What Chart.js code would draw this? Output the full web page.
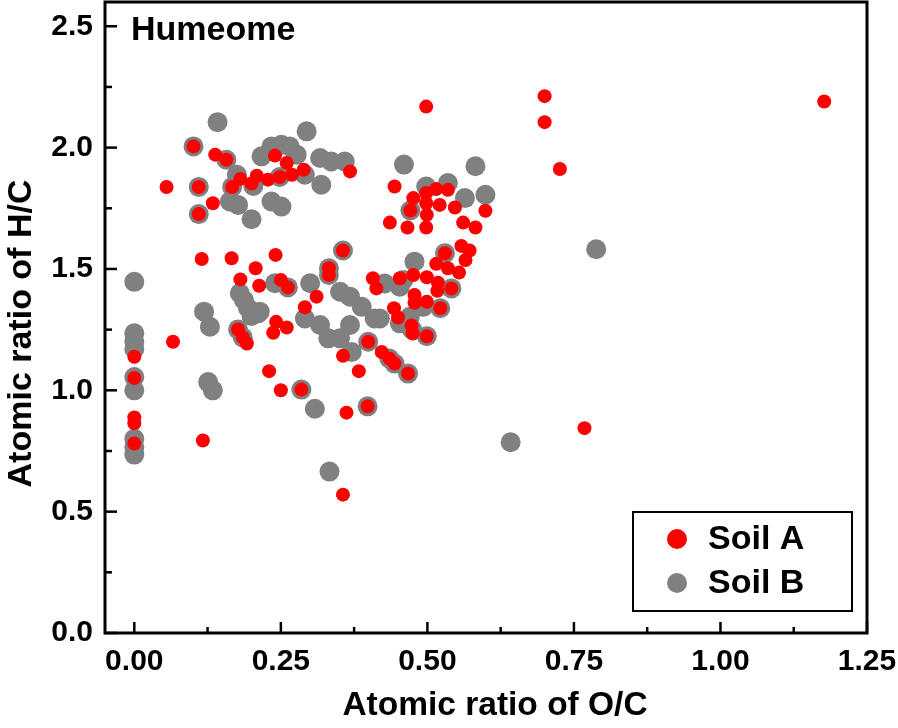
<!DOCTYPE html>
<html><head><meta charset="utf-8">
<script src="https://cdn.jsdelivr.net/npm/chart.js@4.4.1/dist/chart.umd.min.js"></script>
<style>html,body{margin:0;padding:0;background:#fff}#wrap{width:898px;height:728px}</style>
</head><body><div id="wrap"><canvas id="c" width="898" height="728"></canvas></div>
<script>
// ---- data ----
const chartLabel = "Humeome";
const xTitle = "Atomic ratio of O/C";
const yTitle = "Atomic ratio of H/C";
const seriesNames = ["Soil A", "Soil B"];
const xTicks = [0.00, 0.25, 0.50, 0.75, 1.00, 1.25];
const yTicks = [0.0, 0.5, 1.0, 1.5, 2.0, 2.5];

const soilA_OC = [0,0,0,0,0,0.101,0.138,0.157,0.055,0.110,0.167,0.181,0.200,0.209,0.228,0.248,0.269,0.289,0.368,0.240,0.260,0.134,0.110,0.115,0.166,0.241,0.207,0.181,0.213,0.250,0.262,0.332,0.332,0.356,0.311,0.291,0.242,0.260,0.237,0.066,0.117,0.177,0.185,0.192,0.230,0.250,0.285,0.362,0.398,0.383,0.356,0.356,0.768,0.399,0.422,0.435,0.444,0.467,0.443,0.450,0.473,0.475,0.499,0.478,0.499,0.522,0.478,0.517,0.541,0.518,0.476,0.499,0.453,0.407,0.413,0.515,0.535,0.554,0.565,0.530,0.558,0.572,0.498,0.700,0.700,0.726,1.177,0.444,0.476,0.471,0.498,0.515,0.535,0.498,0.521,0.499,0.547,0.436,0.466,0.498,0.561,0.582,0.599];
const soilA_HC = [1.138,1.051,0.888,0.864,0.781,2.005,1.971,1.950,1.838,1.838,1.838,1.871,1.852,1.884,1.868,1.879,1.888,1.909,1.902,1.967,1.937,1.771,1.726,1.541,1.544,1.558,1.503,1.457,1.431,1.455,1.424,1.503,1.475,1.576,1.386,1.342,1.282,1.259,1.237,1.200,0.793,1.251,1.218,1.193,1.079,1.000,1.003,0.908,0.934,1.079,1.142,0.570,0.844,1.200,1.158,1.131,1.110,1.069,1.338,1.300,1.267,1.234,1.223,1.361,1.365,1.338,1.393,1.410,1.420,1.443,1.475,1.466,1.462,1.462,1.420,1.521,1.503,1.485,1.537,1.565,1.595,1.576,2.169,2.212,2.105,1.912,2.190,1.840,1.792,1.741,1.813,1.829,1.826,1.771,1.764,1.723,1.753,1.691,1.671,1.671,1.691,1.671,1.740];

const soilB_OC = [0,0,0,0,0,0,0,0,0,0.142,0.101,0.157,0.110,0.167,0.110,0.175,0.163,0.177,0.200,0.217,0.234,0.251,0.265,0.277,0.294,0.317,0.336,0.359,0.319,0.291,0.248,0.203,0.234,0.251,0.180,0.187,0.194,0.200,0.211,0.177,0.185,0.240,0.300,0.351,0.368,0.388,0.410,0.368,0.291,0.317,0.331,0.351,0.371,0.214,0.308,0.427,0.453,0.478,0.459,0.493,0.419,0.453,0.119,0.129,0.126,0.134,0.333,0.642,0.788,0.460,0.582,0.498,0.535,0.564,0.599,0.471,0.530,0.356,0.332,0.332,0.262,0.285,0.398,0.399,0.435,0.444,0.467,0.499,0.522,0.541,0.474,0.470];
const soilB_HC = [1.447,1.235,1.200,1.170,1.055,1.000,0.800,0.765,0.735,2.105,2.005,1.950,1.838,1.838,1.726,1.888,1.778,1.764,1.705,1.964,2.005,2.012,2.005,1.971,2.067,1.957,1.943,1.943,1.847,1.888,1.879,1.842,1.778,1.757,1.400,1.372,1.339,1.306,1.317,1.251,1.218,1.441,1.441,1.406,1.386,1.344,1.296,1.269,1.296,1.269,1.214,1.214,1.158,1.324,0.924,1.440,1.427,1.530,1.455,1.344,1.296,1.276,1.324,1.262,1.034,1.000,0.665,0.786,1.581,1.930,1.923,1.840,1.854,1.792,1.806,1.741,1.565,1.576,1.503,1.475,1.424,1.003,0.934,1.200,1.131,1.110,1.069,1.223,1.338,1.420,1.250,1.303];

const colorA = "#ff0000";
const colorB = "#808080";
const FONT = "'Liberation Sans', Arial, Helvetica, sans-serif";

const toPts = (xs, ys) => xs.map((x, i) => ({x: x, y: ys[i]}));

const framePlugin = {
  id: 'framePlugin',
  afterDraw(chart) {
    const ctx = chart.ctx;
    const a = chart.chartArea;
    const xs = chart.scales.x, ys = chart.scales.y;
    ctx.save();
    ctx.strokeStyle = '#000';
    ctx.lineWidth = 3;
    ctx.lineCap = 'square';
    ctx.strokeRect(a.left, a.top, a.right - a.left, a.bottom - a.top);
    ctx.lineWidth = 2.5;
    ctx.lineCap = 'butt';
    xTicks.forEach((v, i) => {
      const px = xs.getPixelForValue(v);
      ctx.beginPath(); ctx.moveTo(px, a.bottom); ctx.lineTo(px, a.bottom - 11); ctx.stroke();
      if (i < xTicks.length - 1) {
        const m = xs.getPixelForValue((v + xTicks[i + 1]) / 2);
        ctx.beginPath(); ctx.moveTo(m, a.bottom); ctx.lineTo(m, a.bottom - 6); ctx.stroke();
      }
    });
    yTicks.forEach((v, i) => {
      const py = ys.getPixelForValue(v);
      ctx.beginPath(); ctx.moveTo(a.left, py); ctx.lineTo(a.left + 12, py); ctx.stroke();
      if (i < yTicks.length - 1) {
        const m = ys.getPixelForValue((v + yTicks[i + 1]) / 2);
        ctx.beginPath(); ctx.moveTo(a.left, m); ctx.lineTo(a.left + 7, m); ctx.stroke();
      }
    });
    ctx.fillStyle = '#000';
    ctx.font = 'bold 34px ' + FONT;
    ctx.textAlign = 'left';
    ctx.textBaseline = 'middle';
    ctx.fillText(chartLabel, a.left + 26, a.top + 29);
    // axis titles
    ctx.textAlign = 'center';
    ctx.font = 'bold 33.5px ' + FONT;
    ctx.fillText(xTitle, (a.left + a.right) / 2 + 9, a.bottom + 73);
    ctx.save();
    ctx.translate(22, (a.top + a.bottom) / 2 + 16);
    ctx.rotate(-Math.PI / 2);
    ctx.font = 'bold 34px ' + FONT;
    ctx.fillText(yTitle, 0, 0);
    ctx.restore();
    // legend
    ctx.textAlign = 'left';
    const bx = a.right - 234, by = a.bottom - 121, bw = 219, bh = 99;
    ctx.fillStyle = '#fff';
    ctx.fillRect(bx, by, bw, bh);
    ctx.lineWidth = 2;
    ctx.strokeStyle = '#000';
    ctx.strokeRect(bx, by, bw, bh);
    chart.data.datasets.forEach((ds, i) => {
      const cy = by + 27 + i * 44;
      ctx.beginPath();
      ctx.fillStyle = ds.backgroundColor;
      ctx.arc(bx + 44, cy, 10, 0, Math.PI * 2);
      ctx.fill();
      ctx.fillStyle = '#000';
      ctx.font = 'bold 34px ' + FONT;
      ctx.fillText(ds.label, bx + 75, cy + 1);
    });
    ctx.restore();
  }
};

new Chart(document.getElementById('c'), {
  type: 'scatter',
  data: {
    datasets: [
      {label: seriesNames[0], data: toPts(soilA_OC, soilA_HC), backgroundColor: colorA, borderColor: colorA, borderWidth: 0, pointRadius: 7, pointHoverRadius: 7},
      {label: seriesNames[1], data: toPts(soilB_OC, soilB_HC), backgroundColor: colorB, borderColor: colorB, borderWidth: 0, pointRadius: 10, pointHoverRadius: 10}
    ]
  },
  options: {
    responsive: false,
    animation: false,
    devicePixelRatio: 1,
    layout: {autoPadding: false, padding: {top: 2, right: 31, left: 0, bottom: 0}},
    plugins: {legend: {display: false}, tooltip: {enabled: false}},
    scales: {
      x: {
        type: 'linear', min: -0.05, max: 1.25,
        afterBuildTicks: s => { s.ticks = xTicks.map(v => ({value: v})); },
        afterFit: s => { s.height = 95; s.paddingLeft = 0; s.paddingRight = 0; },
        grid: {display: false, drawTicks: false},
        border: {display: false},
        ticks: {padding: 11, color: '#000', font: {family: FONT, size: 30, weight: 'bold'}, maxRotation: 0, autoSkip: false, callback: v => Number(v).toFixed(2)},
        title: {display: false}
      },
      y: {
        type: 'linear', min: 0, max: 2.6,
        afterBuildTicks: s => { s.ticks = yTicks.map(v => ({value: v})); },
        afterFit: s => { s.width = 105; s.paddingTop = 0; s.paddingBottom = 0; },
        grid: {display: false, drawTicks: false},
        border: {display: false},
        ticks: {padding: 12, color: '#000', font: {family: FONT, size: 30, weight: 'bold'}, autoSkip: false, callback: v => Number(v).toFixed(1)},
        title: {display: false}
      }
    }
  },
  plugins: [framePlugin]
});
</script>
</body></html>
